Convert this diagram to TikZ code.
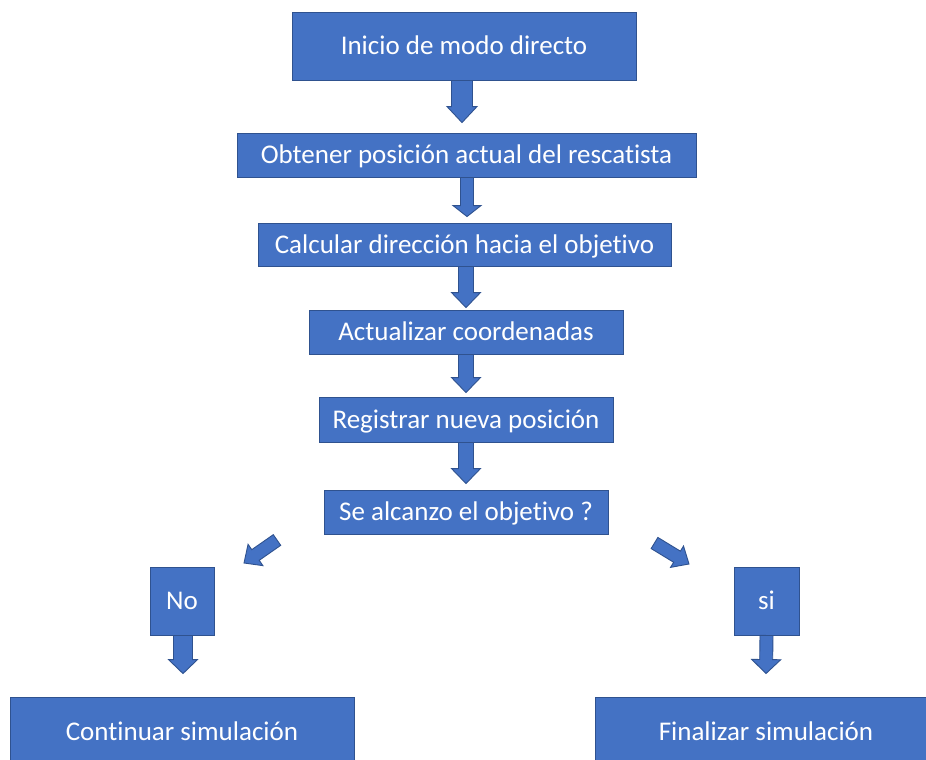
\documentclass[tikz,border=0pt]{standalone}
\usepackage{fontspec}
\setmainfont{Carlito}[RawFeature={-liga;-clig;-dlig;-calt}]
\usetikzlibrary{calc}
\definecolor{boxfill}{HTML}{4472C4}
\definecolor{boxedge}{HTML}{2F528F}
\begin{document}
\begin{tikzpicture}[x=1pt,y=-1pt,
  stepbox/.style 2 args={draw=boxedge, fill=boxfill, line width=0.9pt, text=white,
    font=\fontsize{27}{32}\selectfont, inner sep=0pt,
    text height=17.4pt, text depth=0pt,
    minimum width=#1, minimum height=#2},
  % block arrow: shaft width, head width, head length
  blockarrow/.style n args={3}{draw=boxedge, fill=boxfill, line width=0.9pt, line join=miter,
    to path={let \p1=(\tikztostart), \p2=(\tikztotarget),
      \n1={atan2(\y2-\y1,\x2-\x1)}, \n2={veclen(\x2-\x1,\y2-\y1)-#3} in
      ($(\p1)+(\n1+90:#1/2)$)
      -- ($(\p1)+(\n1:\n2)+(\n1+90:#1/2)$)
      -- ($(\p1)+(\n1:\n2)+(\n1+90:#2/2)$)
      -- (\p2)
      -- ($(\p1)+(\n1:\n2)+(\n1-90:#2/2)$)
      -- ($(\p1)+(\n1:\n2)+(\n1-90:#1/2)$)
      -- ($(\p1)+(\n1-90:#1/2)$) -- cycle}}
]
\useasboundingbox (0,0) rectangle (926,760);
\fill[white] (0,0) rectangle (926,760);
\clip (0,0) rectangle (926,760);

% process steps
\node[stepbox={344pt}{68pt}] (inicio) at (464,46) {Inicio de modo directo};
\node[stepbox={459pt}{44pt}] (obtener) at (466.5,155) {Obtener posición actual del rescatista};
\node[stepbox={413pt}{43pt}] (calcular) at (464.5,244.5) {Calcular dirección hacia el objetivo};
\node[stepbox={314pt}{44pt}] (actualizar) at (466,332) {Actualizar coordenadas};
\node[stepbox={294pt}{45pt}] (registrar) at (466,419.5) {Registrar nueva posición};
\node[stepbox={284pt}{44pt}] (pregunta) at (466,512) {Se alcanzo el objetivo ?};

% branches
\node[stepbox={64pt}{68pt}] (no) at (182,601) {No};
\node[stepbox={65pt}{68pt}] (si) at (766.5,601) {si};
\node[stepbox={344pt}{70pt}] (continuar) at (182,732) {Continuar simulación};
\node[stepbox={342pt}{70pt}] (finalizar) at (766,732) {Finalizar simulación};

% free ends of the diagonal arrows
\coordinate (izqA) at (277,540);
\coordinate (izqB) at (244,563);
\coordinate (derA) at (654.5,543);
\coordinate (derB) at (689,564);

% connectors
\draw[blockarrow={21pt}{30pt}{16pt}] ([xshift=-2pt]inicio.south) to ([xshift=-2pt,yshift=10pt]inicio.south |- obtener.north);
\draw[blockarrow={13pt}{28pt}{11pt}] ([xshift=0.5pt]obtener.south) to ([xshift=0.5pt,yshift=6pt]obtener.south |- calcular.north);
\draw[blockarrow={15pt}{29pt}{15pt}] ([xshift=1.5pt]calcular.south) to ([yshift=2pt]actualizar.north);
\draw[blockarrow={15pt}{29pt}{15pt}] (actualizar.south) to ([yshift=4pt]registrar.north);
\draw[blockarrow={15pt}{29pt}{15pt}] (registrar.south) to ([yshift=6pt]pregunta.north);
\draw[blockarrow={13pt}{26pt}{14pt}] (izqA) to (izqB);
\draw[blockarrow={13pt}{25pt}{14pt}] (derA) to (derB);
\draw[blockarrow={19pt}{29pt}{14pt}] ([xshift=1pt]no.south) to ([xshift=1pt,yshift=23pt]continuar.north);
\draw[blockarrow={13pt}{29pt}{14pt}] (si.south) to ([xshift=-0.5pt,yshift=23pt]si.south |- finalizar.north);
\end{tikzpicture}
\end{document}
